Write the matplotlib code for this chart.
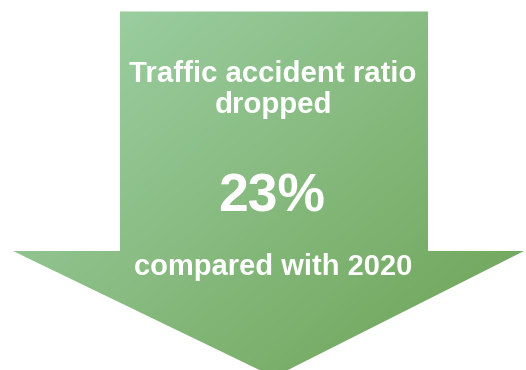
import matplotlib.pyplot as plt
import numpy as np
from matplotlib.patches import Polygon

headline = ["Traffic accident ratio", "dropped"]
change_pct = 23
base_year = 2020

W, H = 526, 370
fig = plt.figure(figsize=(W / 100, H / 100), dpi=100)
ax = fig.add_axes([0, 0, 1, 1])
ax.set_xlim(0, W)
ax.set_ylim(H, 0)
ax.axis("off")

# arrow outline (pixel units), tip runs slightly past the bottom edge
shaft_l, shaft_r, top = 120, 428, 11.5
head_l, head_r, shoulder = 13, 524, 251
tip_x, tip_y = 274, 377
verts = [(shaft_l, top), (shaft_r, top), (shaft_r, shoulder), (head_r, shoulder),
         (tip_x, tip_y), (head_l, shoulder), (shaft_l, shoulder)]
arrow = Polygon(verts, closed=True, facecolor="none", edgecolor="none")
ax.add_patch(arrow)

# diagonal gradient light top-left -> darker bottom-right
c0 = np.array([162, 212, 172]) / 255
c1 = np.array([108, 162, 84]) / 255
yy, xx = np.mgrid[0:H, 0:W]
t = (xx / W * 0.55 + yy / H * 0.45)
t = (t - t.min()) / (t.max() - t.min())
img = c0[None, None, :] * (1 - t[..., None]) + c1[None, None, :] * t[..., None]
im = ax.imshow(img, extent=(0, W, H, 0), interpolation="bilinear")
im.set_clip_path(arrow)

font = "Liberation Sans"
style = dict(ha="center", va="baseline", color="white", fontweight="bold", family=font)
ax.text(272.5, 82, headline[0], fontsize=21.2, **style)
ax.text(273.5, 113, headline[1], fontsize=21.2, **style)
ax.text(271.5, 211, f"{change_pct}%", fontsize=38.5, **style)
ax.text(273.5, 275, f"compared with {base_year}", fontsize=21, **style)

fig.savefig("out.png", dpi=100)
